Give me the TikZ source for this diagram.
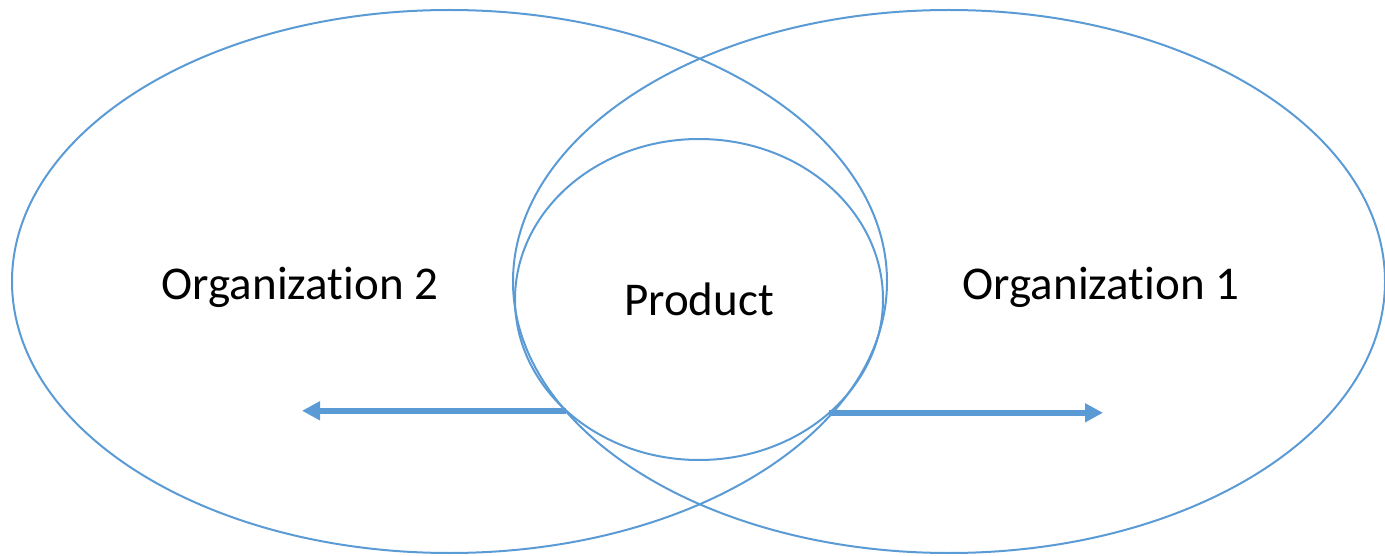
\documentclass[tikz,border=0pt]{standalone}
\usepackage{fontspec}
\setmainfont{Carlito}[Ligatures=NoCommon]
\usetikzlibrary{shapes.geometric,arrows.meta}
\definecolor{cornflower}{RGB}{91, 155, 213}

\begin{document}
\begin{tikzpicture}[x=1pt, y=-1pt,
    ring/.style={draw=cornflower, line width=2pt, ellipse, inner sep=0pt, outer sep=0pt, font=\fontsize{47}{56}\selectfont},
    flow/.style={draw=cornflower, line width=6pt, -{Triangle[length=18pt, width=18pt]}},
    tag/.style={anchor=base, font=\fontsize{47}{56}\selectfont}]
            \useasboundingbox                                                     (   0.0,   0.0) rectangle (1385, 556);
            \node[ring, minimum width=875pt, minimum height=543pt] (org2)    at ( 449.5, 281.5) {};
            \node[ring, minimum width=872pt, minimum height=543pt] (org1)    at ( 949.0, 281.5) {};
            \node[ring, minimum width=368pt, minimum height=321pt] (product) at ( 699.0, 299.5) {Product};
            \node[tag]                                             (org2txt) at ( 300.0, 299.0) {Organization 2};
            \node[tag]                                             (org1txt) at (1101.0, 299.0) {Organization 1};
            \coordinate (org2end) at ( 302.0, 0.0);
            \coordinate (org1end) at (1103.0, 0.0);
            \draw[flow] (product.220.7) -- (product.220.7 -| org2end);
            \draw[flow] (product.319.8) -- (product.319.8 -| org1end);
\end{tikzpicture}
\end{document}
